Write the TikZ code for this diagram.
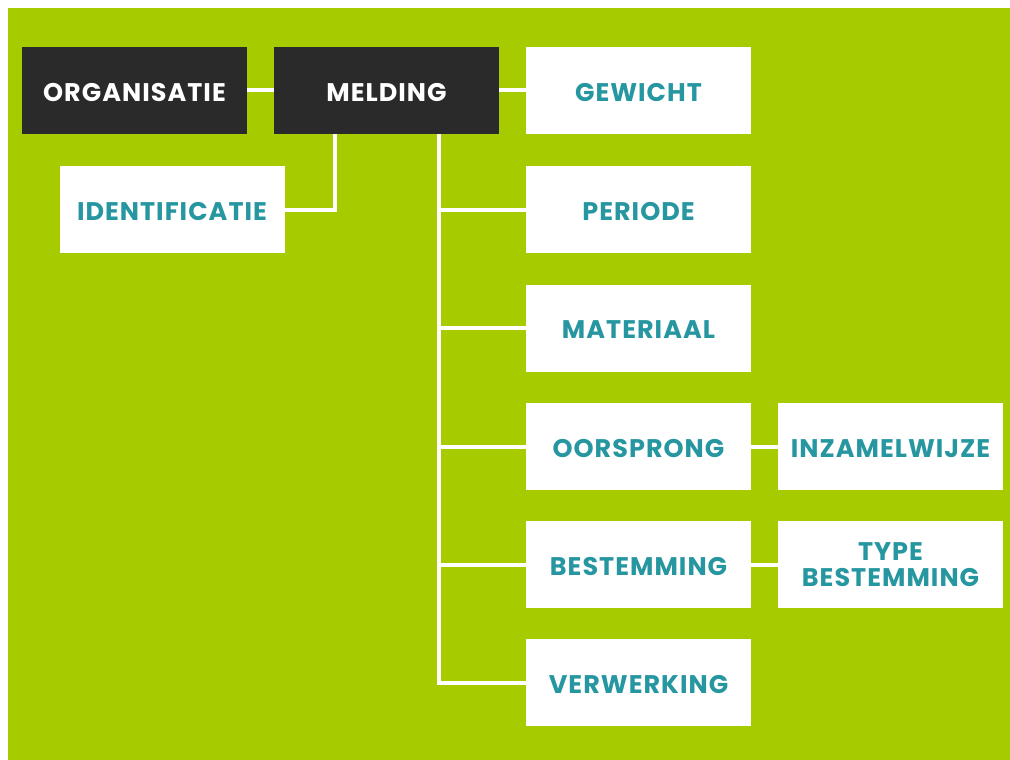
\documentclass[tikz,border=0pt]{standalone}
\usepackage{fontspec}
\setmainfont{Poppins}[LetterSpace=4]
\usepackage{xcolor}
\definecolor{limegreen}{RGB}{166,204,0}
\definecolor{boxdark}{RGB}{42,42,42}
\definecolor{tealtext}{RGB}{38,150,160}
\usetikzlibrary{positioning}

\begin{document}
\begin{tikzpicture}[
      x=1pt,y=-1pt,
      box/.style={minimum width=225pt,minimum height=87pt,inner sep=0pt,
        align=center,font=\fontsize{25.5}{24}\selectfont\bfseries},
      oneline/.style={text height=21.5pt,text depth=0pt},
      darkbox/.style={box,oneline,fill=boxdark,text=white},
      lightbox/.style={box,oneline,fill=white,text=tealtext},
      twoline/.style={box,fill=white,text=tealtext},
      link/.style={draw=white,line width=4pt}
    ]
    \useasboundingbox (0,0) rectangle (1010,760);
    \fill[limegreen] (8,8) rectangle (1010,760);
    % top row
    \node[darkbox] (org) at (134.5,90.5) {ORGANISATIE};
    \node[darkbox] (meld) at (386.5,90.5) {MELDING};
    \node[lightbox] (gew) at (638.5,90.5) {GEWICHT};
    \node[lightbox] (ident) at (172,209.5) {IDENTIFICATIE};
    % column under melding
    \node[lightbox] (per) at (638.5,209.5) {PERIODE};
    \node[lightbox] (mat) at (638.5,328) {MATERIAAL};
    \node[lightbox] (oor) at (638.5,446.5) {OORSPRONG};
    \node[lightbox] (best) at (638.5,564.5) {BESTEMMING};
    \node[lightbox] (verw) at (638.5,682.5) {VERWERKING};
    \node[lightbox] (inz) at (890.5,446.5) {INZAMELWIJZE};
    \node[twoline] (type) at (890.5,564.5) {TYPE\\[2pt]BESTEMMING};
    \coordinate (identtap) at (335,134);
    \coordinate (trunk) at (439,134);
    \draw[link] (org) -- (meld);
    \draw[link] (meld) -- (gew);
    \draw[link] (meld.south -| identtap) |- (ident.east);
    \draw[link] (meld.south -| trunk) |- (verw.west);
    \foreach \n in {per,mat,oor,best} {
      \draw[link] (trunk |- \n) -- (\n.west);
    }
    \draw[link] (oor) -- (inz);
    \draw[link] (best) -- (type);
  \end{tikzpicture}
\end{document}
